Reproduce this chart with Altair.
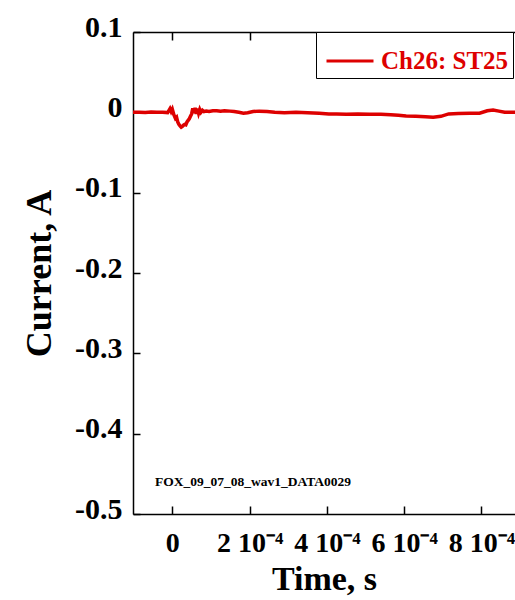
import altair as alt
import pandas as pd

# ---- data ----
time_e4 = [-1.02, -0.85, -0.70, -0.55, -0.40, -0.25, -0.12, -0.06, -0.03, 0.00,
           0.04, 0.08, 0.11, 0.14, 0.17, 0.20, 0.23, 0.26, 0.29, 0.32,
           0.35, 0.38, 0.41, 0.44, 0.47, 0.50, 0.53, 0.56, 0.59, 0.62,
           0.65, 0.68, 0.71, 0.74, 0.78, 0.82, 0.88, 0.95, 1.05, 1.15,
           1.25, 1.35, 1.49, 1.60, 1.72, 1.84, 1.95, 2.09, 2.25, 2.45,
           2.65, 2.90, 3.20, 3.50, 3.80, 4.05, 4.25, 4.50, 4.80, 5.10,
           5.40, 5.65, 5.85, 6.05, 6.30, 6.55, 6.75, 6.95, 7.15, 7.40,
           7.70, 7.95, 8.15, 8.30, 8.45, 8.60, 8.75, 8.90]
current = [0.0000, 0.0002, -0.0002, 0.0003, 0.0000, 0.0002, -0.0003, 0.0045, 0.0010, 0.0040,
           -0.0030, -0.0075, -0.0060, -0.0120, -0.0150, -0.0170, -0.0185, -0.0175, -0.0160, -0.0150,
           -0.0155, -0.0120, -0.0100, -0.0080, -0.0050, -0.0020, 0.0050, -0.0010, 0.0055, -0.0020,
           0.0045, -0.0010, 0.0035, 0.0000, 0.0025, 0.0010, 0.0015, 0.0010, 0.0020, 0.0020,
           0.0015, 0.0020, 0.0015, 0.0010, 0.0000, -0.0010, -0.0005, 0.0010, 0.0015, 0.0010,
           0.0000, -0.0005, 0.0000, -0.0005, -0.0010, -0.0020, -0.0020, -0.0025, -0.0020, -0.0025,
           -0.0025, -0.0030, -0.0035, -0.0045, -0.0050, -0.0055, -0.0060, -0.0050, -0.0020, -0.0015,
           -0.0010, -0.0010, 0.0020, 0.0030, 0.0015, 0.0000, 0.0000, 0.0000]
series_name = "Ch26: ST25"
x_ticks = [0, 2e-4, 4e-4, 6e-4, 8e-4]
y_ticks = [-0.5, -0.4, -0.3, -0.2, -0.1, 0.0, 0.1]
note_label = ["FOX_09_07_08_wav1_DATA0029"]
note_x = [-0.45e-4]
note_y = [-0.46]

FONT = "Liberation Serif"
RED = "#dd0000"

df = pd.DataFrame({
    "t": [v * 1e-4 for v in time_e4],
    "i": current,
    "s": [series_name] * len(time_e4),
})
notes = pd.DataFrame({"t": note_x, "i": note_y, "label": note_label})

xscale = alt.Scale(domain=[-1.017e-4, 8.867e-4], nice=False, zero=False)
yscale = alt.Scale(domain=[-0.5, 0.1], nice=False, zero=False)

common_axis = dict(
    grid=False, domainColor="black", domainWidth=1.5,
    tickColor="black", tickWidth=1.5,
    labelFont=FONT, labelFontWeight="bold", labelColor="black",
    titleFont=FONT, titleFontWeight="bold", titleColor="black",
)

x_label_expr = "datum.value == 0 ? '0' : format(round(datum.value * 1e4), 'd') + ' 10\u207b\u2074'"
y_label_expr = "datum.value == 0 ? '0' : replace(format(datum.value, '.1f'), '\u2212', '-')"

line = alt.Chart(df).mark_line(strokeWidth=3.5, clip=True).encode(
    x=alt.X("t:Q", scale=xscale, axis=alt.Axis(
        orient="bottom", values=x_ticks, title="Time, s", labelExpr=x_label_expr,
        tickSize={"expr": "-8"}, labelPadding=23, labelFontSize=28,
        titleFontSize=34, titlePadding=5, labelFlush=False, labelOverlap=False,
        **common_axis)),
    y=alt.Y("i:Q", scale=yscale, axis=alt.Axis(
        orient="left", values=y_ticks, title="Current, A", labelExpr=y_label_expr,
        tickSize={"expr": "-7"}, labelPadding=18, labelFontSize=30, labelOffset=-5,
        titleFontSize=36, titlePadding=16, labelFlush=False, labelOverlap=False,
        **common_axis)),
    color=alt.Color("s:N", scale=alt.Scale(range=[RED]), legend=alt.Legend(
        title=None, orient="none", legendX=183, legendY=0,
        strokeColor="black", fillColor="white", padding=4,
        symbolType="stroke", symbolSize=2209, symbolStrokeWidth=3, symbolOffset=5,
        labelFont=FONT, labelFontWeight="bold", labelFontSize=25,
        labelColor=RED, labelOffset=6)),
)

note = alt.Chart(notes).mark_text(
    align="left", baseline="middle", font=FONT, fontWeight="bold",
    fontSize=13.5, color="black",
).encode(
    x=alt.X("t:Q", scale=xscale, axis=alt.Axis(
        orient="top", values=x_ticks, title="", labels=False,
        tickSize={"expr": "-8"}, **common_axis)),
    y=alt.Y("i:Q", scale=yscale),
    text="label:N",
)

chart = alt.layer(line, note).resolve_axis(x="independent").properties(
    width=382, height=482,
    autosize=alt.AutoSizeParams(type="none"),
    padding={"left": 133, "top": 32, "right": 0, "bottom": 86},
    background="white",
).configure_view(strokeWidth=0)

chart.save("out.html", embed_options={"renderer": "svg", "actions": False})
